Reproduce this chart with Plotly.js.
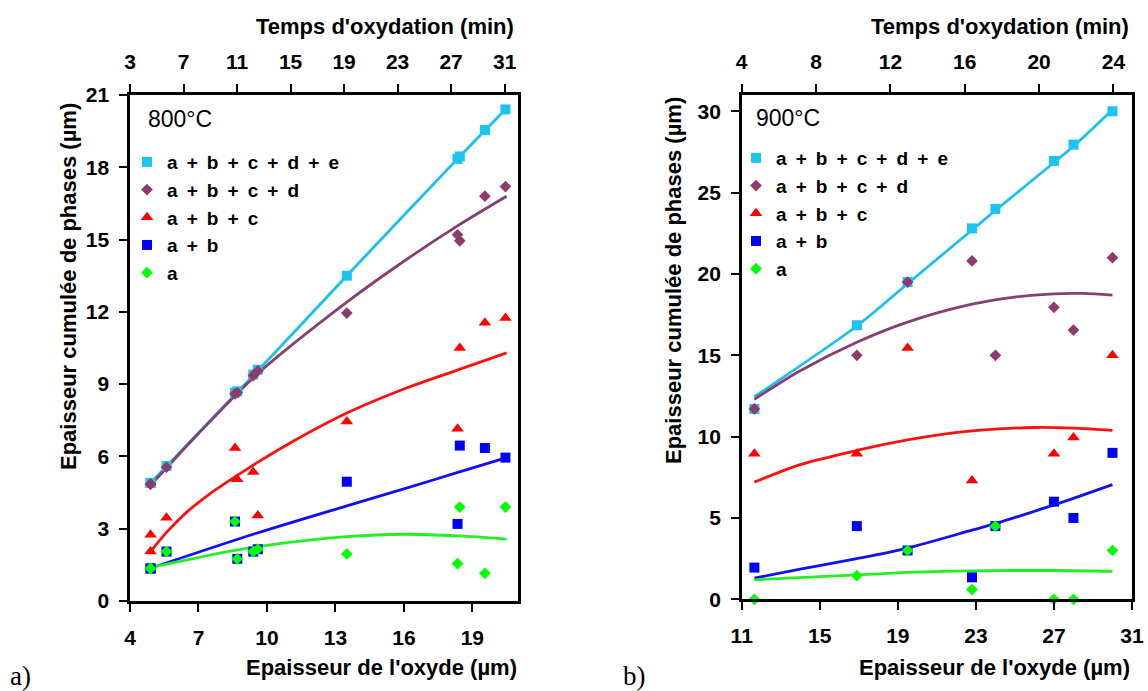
<!DOCTYPE html>
<html>
<head>
<meta charset="utf-8">
<script src="https://cdn.plot.ly/plotly-3.0.1.min.js"></script>
<style>html,body{margin:0;padding:0;background:#fff;}#chart{width:1148px;height:691px;}</style>
</head>
<body>
<div id="chart"></div>
<script>
// ---------- Data: 800°C ----------
const seriesNames = ['a\u2009 + \u2009b\u2009 + \u2009c\u2009 + \u2009d\u2009 + \u2009e',
                     'a\u2009 + \u2009b\u2009 + \u2009c\u2009 + \u2009d',
                     'a\u2009 + \u2009b\u2009 + \u2009c',
                     'a\u2009 + \u2009b',
                     'a'];

const thick800 = [4.9, 4.9, 5.6, 8.6, 8.7, 9.4, 9.6, 13.5, 18.35, 18.45, 19.55, 20.45];
const abcde800 = [4.9, 4.9, 5.6, 8.65, 8.7, 9.4, 9.6, 13.5, 18.35, 18.45, 19.55, 20.4];
const abcd800  = [4.85, 4.85, 5.55, 8.6, 8.65, 9.35, 9.55, 11.95, 15.2, 14.95, 16.8, 17.2];
const abc800   = [2.75, 2.05, 3.45, 6.35, 5.05, 5.35, 3.55, 7.45, 7.15, 10.5, 11.55, 11.75];
const ab800    = [1.35, 1.35, 2.05, 3.3, 1.75, 2.05, 2.15, 4.95, 3.2, 6.45, 6.35, 5.95];
const a800     = [1.35, 1.35, 2.05, 3.3, 1.75, 2.05, 2.15, 1.95, 1.55, 3.9, 1.15, 3.9];

// trend curves (800°C)
const fitX_abcde800 = [4.9, 9.5, 13.5, 18.4, 20.5];
const fitY_abcde800 = [4.9, 9.45, 13.5, 18.4, 20.45];
const fitX_abcd800  = [4.9, 7, 9.5, 13.5, 16, 18.4, 20.5];
const fitY_abcd800  = [4.8, 6.95, 9.35, 12.4, 14.1, 15.6, 16.8];
const fitX_abc800   = [4.9, 5.6, 6.5, 7.5, 8.6, 9.5, 11, 13.5, 16, 18.4, 20.5];
const fitY_abc800   = [2.05, 2.85, 3.7, 4.45, 5.15, 5.7, 6.55, 7.8, 8.8, 9.6, 10.3];
const fitX_ab800    = [4.9, 9.5, 13.5, 16, 18.4, 20.5];
const fitY_ab800    = [1.36, 2.8, 3.95, 4.65, 5.35, 5.95];
const fitX_a800     = [4.9, 6.55, 8, 10.07, 13.5, 16, 18.4, 20.5];
const fitY_a800     = [1.4, 1.72, 2.0, 2.32, 2.67, 2.77, 2.7, 2.57];

// ---------- Data: 900°C ----------
const thick900 = [11.65, 16.9, 19.5, 22.8, 24.0, 27.0, 28.0, 30.0];
const abcde900 = [11.7, 16.85, 19.5, 22.8, 24.0, 26.95, 27.95, 30.0];
const abcd900  = [11.7, 15.0, 19.5, 20.8, 15.0, 17.95, 16.55, 21.0];
const abc900   = [8.95, 8.95, 15.45, 7.3, null, 8.95, 9.95, 15.0];
const ab900    = [1.95, 4.5, 3.0, 1.35, 4.5, 6.0, 5.0, 9.0];
const a900     = [0, 1.45, 3.0, 0.6, 4.5, 0, 0, 3.0];

const fitX_abcde900 = [11.65, 16.9, 19.5, 22.8, 24, 27, 28, 30];
const fitY_abcde900 = [12.45, 16.8, 19.4, 22.7, 23.9, 26.85, 27.85, 30.1];
const fitX_abcd900  = [11.65, 14, 16.9, 19.5, 22.8, 25, 27, 28.5, 30];
const fitY_abcd900  = [12.3, 14.05, 15.8, 17.04, 18.14, 18.58, 18.78, 18.8, 18.7];
const fitX_abc900   = [11.65, 14, 16.9, 19.5, 22.8, 26, 28, 30];
const fitY_abc900   = [7.2, 8.28, 9.15, 9.8, 10.35, 10.56, 10.52, 10.38];
const fitX_ab900    = [11.65, 14, 16.9, 19.5, 22.8, 24, 27, 28, 30];
const fitY_ab900    = [1.3, 1.85, 2.5, 3.15, 4.25, 4.65, 5.8, 6.2, 7.05];
const fitX_a900     = [11.65, 16.9, 19.5, 22.8, 27, 30];
const fitY_a900     = [1.2, 1.5, 1.65, 1.75, 1.77, 1.72];

// top (time) axes tick labels
const timeTicks800 = [3, 7, 11, 15, 19, 23, 27, 31];
const timeTicks900 = [4, 8, 12, 16, 20, 24];

// ---------- Styles ----------
const FONT = 'Liberation Sans, Arial, sans-serif';
const markerColors = ['#1CC4F2', '#8E3B6C', '#FF0000', '#0000FF', '#00FF00'];
const lineColors   = ['#1CC0EE', '#84406F', '#FF1010', '#1010F0', '#22F022'];
const symbols = ['square', 'diamond', 'triangle-up', 'square', 'diamond'];
const sizes = [10, 9, 11, 10, 9];

function panel(xa, ya, legendId, thick, ys, fits) {
  const tr = [];
  fits.forEach((f, i) => {
    tr.push({x: f[0], y: f[1], type: 'scatter', mode: 'lines', xaxis: xa, yaxis: ya,
      line: {color: lineColors[i], width: 2.8, shape: 'spline', smoothing: 0.8}, showlegend: false, hoverinfo: 'skip'});
  });
  ys.forEach((y, i) => {
    tr.push({x: thick, y: y, type: 'scatter', mode: 'markers', xaxis: xa, yaxis: ya,
      name: seriesNames[i], legend: legendId, cliponaxis: false,
      marker: {symbol: symbols[i], size: sizes[i], color: markerColors[i]}});
  });
  return tr;
}

let traces = [];
traces = traces.concat(panel('x', 'y', 'legend', thick800,
  [abcde800, abcd800, abc800, ab800, a800],
  [[fitX_abcde800, fitY_abcde800], [fitX_abcd800, fitY_abcd800], [fitX_abc800, fitY_abc800],
   [fitX_ab800, fitY_ab800], [fitX_a800, fitY_a800]]));
traces = traces.concat(panel('x2', 'y2', 'legend2', thick900,
  [abcde900, abcd900, abc900, ab900, a900],
  [[fitX_abcde900, fitY_abcde900], [fitX_abcd900, fitY_abcd900], [fitX_abc900, fitY_abc900],
   [fitX_ab900, fitY_ab900], [fitX_a900, fitY_a900]]));
// invisible traces to activate the top (time) axes
traces.push({x: timeTicks800, y: timeTicks800.map(() => null), xaxis: 'x3', yaxis: 'y', type: 'scatter',
  mode: 'markers', marker: {opacity: 0}, showlegend: false, hoverinfo: 'skip'});
traces.push({x: timeTicks900, y: timeTicks900.map(() => null), xaxis: 'x4', yaxis: 'y2', type: 'scatter',
  mode: 'markers', marker: {opacity: 0}, showlegend: false, hoverinfo: 'skip'});

const W = 1148, H = 691;
const px = v => v / W;
const py = v => 1 - v / H;

const tickFont = {family: FONT, size: 21, color: '#000', weight: 'bold'};
const axBase = {showline: true, linecolor: '#000', linewidth: 2.6, ticks: 'outside', ticklen: 8,
  tickwidth: 2, tickcolor: '#000', showgrid: false, zeroline: false, tickfont: tickFont, fixedrange: true};

const dom1 = [px(130), px(518)];
const dom2 = [px(741.7), px(1132)];

const legFont = {family: FONT, size: 19, color: '#000', weight: 'bold'};

const layout = {
  width: W, height: H, autosize: false,
  margin: {l: 0, r: 0, t: 0, b: 0},
  paper_bgcolor: '#fff', plot_bgcolor: '#fff',
  showlegend: true,
  xaxis:  Object.assign({}, axBase, {domain: dom1, range: [4, 21], tick0: 4, dtick: 3, anchor: 'y', ticklabelstandoff: 8}),
  yaxis:  Object.assign({}, axBase, {domain: [py(601), py(95)], range: [0, 21], tick0: 0, dtick: 3, anchor: 'x', mirror: true, ticklabelstandoff: 6}),
  xaxis3: Object.assign({}, axBase, {overlaying: 'x', side: 'top', anchor: 'y', range: [3, 32], tick0: 3, dtick: 4, ticklabelstandoff: 7}),
  xaxis2: Object.assign({}, axBase, {domain: dom2, range: [11, 31], tick0: 11, dtick: 4, anchor: 'y2', ticklabelstandoff: 8}),
  yaxis2: Object.assign({}, axBase, {domain: [py(599.3), py(95)], range: [0, 31], tick0: 0, dtick: 5, anchor: 'x2', mirror: true, ticklabelstandoff: 6}),
  xaxis4: Object.assign({}, axBase, {overlaying: 'x2', side: 'top', anchor: 'y2', range: [4, 25], tick0: 4, dtick: 4, ticklabelstandoff: 7}),
  legend:  {x: px(127), y: py(143), xanchor: 'left', yanchor: 'top', bgcolor: 'rgba(0,0,0,0)',
            font: legFont, traceorder: 'normal'},
  legend2: {x: px(736), y: py(139), xanchor: 'left', yanchor: 'top', bgcolor: 'rgba(0,0,0,0)',
            font: legFont, traceorder: 'normal'},
  annotations: [
    {text: '800°C', x: px(146), y: py(119), xref: 'paper', yref: 'paper', xanchor: 'left', yanchor: 'middle', showarrow: false,
     font: {family: FONT, size: 23, color: '#000'}},
    {text: '900°C', x: px(754), y: py(118), xref: 'paper', yref: 'paper', xanchor: 'left', yanchor: 'middle', showarrow: false,
     font: {family: FONT, size: 23, color: '#000'}},
    {text: "Temps d'oxydation (min)", x: px(516), y: py(26), xref: 'paper', yref: 'paper', xanchor: 'right', yanchor: 'middle', showarrow: false,
     font: {family: FONT, size: 22, color: '#000', weight: 'bold'}},
    {text: "Temps d'oxydation (min)", x: px(1131), y: py(26), xref: 'paper', yref: 'paper', xanchor: 'right', yanchor: 'middle', showarrow: false,
     font: {family: FONT, size: 22, color: '#000', weight: 'bold'}},
    {text: "Epaisseur de l'oxyde (µm)", x: px(519), y: py(667), xref: 'paper', yref: 'paper', xanchor: 'right', yanchor: 'middle', showarrow: false,
     font: {family: FONT, size: 22, color: '#000', weight: 'bold'}},
    {text: "Epaisseur de l'oxyde (µm)", x: px(1132), y: py(667), xref: 'paper', yref: 'paper', xanchor: 'right', yanchor: 'middle', showarrow: false,
     font: {family: FONT, size: 22, color: '#000', weight: 'bold'}},
    {text: 'Epaisseur cumulée de phases (µm)', x: px(68), y: py(287), xref: 'paper', yref: 'paper', xanchor: 'center', yanchor: 'middle',
     textangle: -90, showarrow: false, font: {family: FONT, size: 22, color: '#000', weight: 'bold'}},
    {text: 'Epaisseur cumulée de phases (µm)', x: px(673), y: py(281), xref: 'paper', yref: 'paper', xanchor: 'center', yanchor: 'middle',
     textangle: -90, showarrow: false, font: {family: FONT, size: 22, color: '#000', weight: 'bold'}},
    {text: 'a)', x: px(8), y: py(676), xref: 'paper', yref: 'paper', xanchor: 'left', yanchor: 'middle', showarrow: false,
     font: {family: 'Liberation Serif, Times New Roman, serif', size: 27, color: '#000'}},
    {text: 'b)', x: px(621), y: py(676), xref: 'paper', yref: 'paper', xanchor: 'left', yanchor: 'middle', showarrow: false,
     font: {family: 'Liberation Serif, Times New Roman, serif', size: 27, color: '#000'}}
  ]
};

Plotly.newPlot('chart', traces, layout, {staticPlot: true, displayModeBar: false});
</script>
</body>
</html>
